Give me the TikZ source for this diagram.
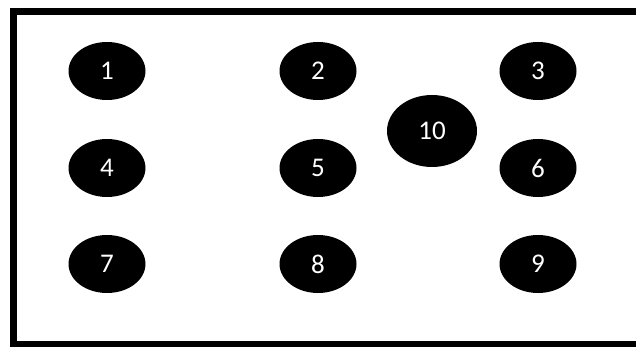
\documentclass[tikz,border=0pt]{standalone}
\usepackage{fontspec}
\setmainfont{Carlito}
\usepackage{tikz}
\usetikzlibrary{shapes.geometric}

\begin{document}
\begin{tikzpicture}[x=1pt,y=-1pt,
  dot/.style={ellipse,fill=black,text=white,minimum width=77pt,minimum height=58pt,inner sep=0pt,font=\fontsize{27}{27}\selectfont},
  bigdot/.style={dot,minimum width=90pt,minimum height=72pt}]
\useasboundingbox (0,0) rectangle (636,347);
\clip (0,0) rectangle (636,347);
\draw[line width=7.5pt] (13.5,11.5) rectangle (650,345);
\node[dot] (n1) at (107,71) {1}; \node[dot] (n2) at (318,71) {2}; \node[dot] (n3) at (538,71) {3};
\node[dot] (n4) at (107,168) {4}; \node[dot] (n5) at (318,168) {5}; \node[dot] (n6) at (538,168) {6};
\node[dot] (n7) at (107,264) {7}; \node[dot] (n8) at (318,264) {8}; \node[dot] (n9) at (538,264) {9};
\node[bigdot] (n10) at (432,131) {10};
\end{tikzpicture}
\end{document}
